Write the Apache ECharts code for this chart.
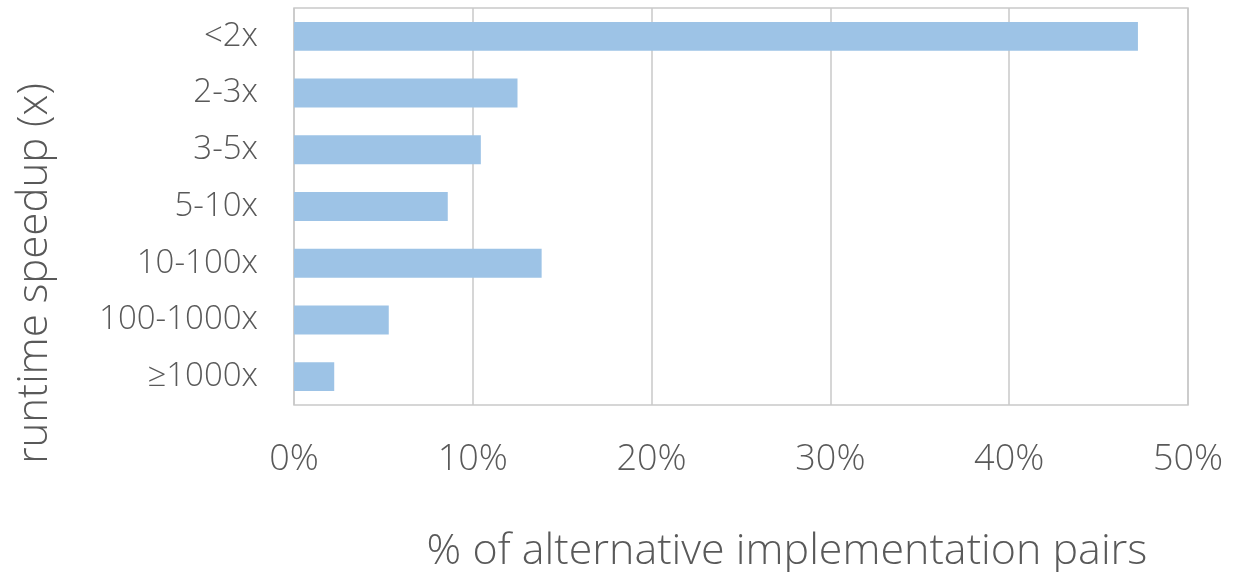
<!DOCTYPE html>
<html>
<head>
<meta charset="utf-8">
<style>
  html, body { margin: 0; padding: 0; background: #ffffff; }
  #chart { width: 1244px; height: 572px; }
</style>
<script src="https://cdn.jsdelivr.net/npm/echarts@6/dist/echarts.min.js"></script>
</head>
<body>
<div id="chart"></div>
<script>
// Speedup buckets and share of implementation pairs in each (percent)
const categories = ['<2x', '2-3x', '3-5x', '5-10x', '10-100x', '100-1000x', '≥1000x'];
const shares = [47.2, 12.5, 10.45, 8.6, 13.85, 5.3, 2.25];
const xTicks = { min: 0, max: 50, interval: 10 };

const textColor = '#595959';
const lineColor = '#c9c9c9';
const fontFamily = '"Open Sans", "Noto Sans", sans-serif';

const chart = echarts.init(document.getElementById('chart'));
chart.setOption({
  animation: false,
  backgroundColor: '#ffffff',
  grid: {
    left: 294, right: 56, top: 8, bottom: 167,
    show: true, borderColor: lineColor, borderWidth: 1.5,
    containLabel: false,
    outerBoundsMode: 'none'
  },
  xAxis: {
    type: 'value',
    min: xTicks.min, max: xTicks.max, interval: xTicks.interval,
    axisLine: { show: false },
    axisTick: { show: false },
    splitLine: { show: true, lineStyle: { color: lineColor, width: 1.5 } },
    axisLabel: {
      formatter: '{value}%', margin: 37,
      color: textColor, fontSize: 36, fontFamily: fontFamily, fontWeight: 300
    },
    name: '% of alternative implementation pairs',
    nameLocation: 'middle',
    nameGap: 125,
    nameTextStyle: {
      color: textColor, fontSize: 43, fontFamily: fontFamily, fontWeight: 300,
      padding: [0, 0, 0, 92]
    }
  },
  yAxis: {
    type: 'category',
    data: categories,
    inverse: true,
    axisLine: { show: false },
    axisTick: { show: false },
    splitLine: { show: false },
    axisLabel: {
      margin: 36,
      color: textColor, fontSize: 33, fontFamily: fontFamily, fontWeight: 300
    },
    name: 'runtime speedup (x)',
    nameLocation: 'middle',
    nameGap: 238,
    nameRotate: 90,
    nameTextStyle: {
      color: textColor, fontSize: 42, fontFamily: fontFamily, fontWeight: 300,
      padding: [0, 134, 0, 0]
    }
  },
  series: [{
    type: 'bar',
    data: shares,
    barCategoryGap: '49%',
    itemStyle: { color: '#9dc3e6' },
    silent: true
  }]
});
</script>
</body>
</html>
